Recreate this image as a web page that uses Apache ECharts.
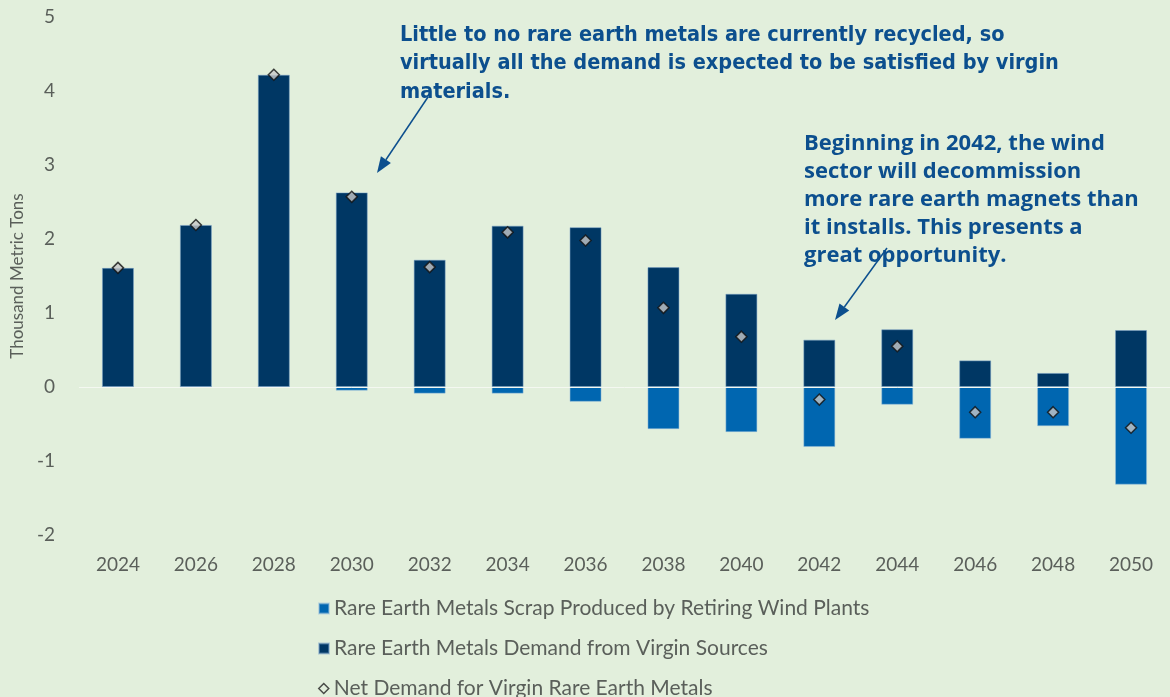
<!DOCTYPE html>
<html>
<head>
<meta charset="utf-8">
<script src="https://cdn.jsdelivr.net/npm/echarts@6/dist/echarts.min.js"></script>
<style>
  html, body { margin: 0; padding: 0; background: #e2efdc; }
  #chart { width: 1170px; height: 697px; }
</style>
</head>
<body>
<div id="chart"></div>
<script>
const anos = ['2024','2026','2028','2030','2032','2034','2036','2038','2040','2042','2044','2046','2048','2050']
const sucata = [0, 0, 0, -0.05, -0.09, -0.09, -0.20, -0.57, -0.61, -0.81, -0.24, -0.70, -0.53, -1.32]
const virgem = [1.61, 2.19, 4.22, 2.63, 1.72, 2.18, 2.16, 1.62, 1.26, 0.64, 0.78, 0.36, 0.19, 0.77]
const liquida = [1.61, 2.19, 4.22, 2.57, 1.62, 2.09, 1.98, 1.07, 0.68, -0.17, 0.55, -0.34, -0.34, -0.55]
const nomes = ['Rare Earth Metals Scrap Produced by Retiring Wind Plants',
               'Rare Earth Metals Demand from Virgin Sources',
               'Net Demand for Virgin Rare Earth Metals']

const azulTexto = '#0c4f8e'
const cinza = '#5a5f5a'

function seta(x1, y1, x2, y2){
    // linha + ponta triangular
    let dx = x2 - x1, dy = y2 - y1
    let len = Math.sqrt(dx*dx + dy*dy)
    let ux = dx/len, uy = dy/len
    let bx = x2 - 16*ux, by = y2 - 16*uy
    let px = -uy, py = ux
    return [
        { type: 'line', shape: {x1: x1, y1: y1, x2: bx, y2: by}, style: {stroke: azulTexto, lineWidth: 1.5} },
        { type: 'polygon', shape: {points: [[x2, y2], [bx + 6*px, by + 6*py], [bx - 6*px, by - 6*py]]}, style: {fill: azulTexto} }
    ]
}

function legenda(item, topo){
    return {
        left: 318,
        top: topo,
        padding: 0,
        itemWidth: 10,
        itemHeight: 10,
        textStyle: { fontSize: 21, color: cinza, fontFamily: 'Lato', lineHeight: 20 },
        data: [item]
    }
}

let option = {
    backgroundColor: '#e2efdc',
    textStyle: { fontFamily: 'Lato' },
    grid: { left: 79, top: 17, width: 1096, height: 518 },
    legend: [
        legenda({ name: nomes[0], icon: 'rect' }, 598),
        legenda({ name: nomes[1], icon: 'rect' }, 638),
        legenda({ name: nomes[2], icon: 'diamond', itemStyle: { color: '#e2efdc', borderColor: '#222', borderWidth: 1.5 } }, 678)
    ],
    xAxis: {
        type: 'category',
        data: anos,
        position: 'bottom',
        axisLine: { show: false, onZero: false },
        axisTick: { show: false },
        axisLabel: { fontSize: 19, color: cinza, margin: 20 }
    },
    yAxis: {
        type: 'value',
        min: -2,
        max: 5,
        interval: 1,
        splitLine: { show: false },
        axisLabel: { fontSize: 19, color: cinza, margin: 24 },
        name: 'Thousand Metric Tons',
        nameLocation: 'middle',
        nameGap: 48,
        nameTextStyle: { fontSize: 17, color: cinza }
    },
    series: [
        {
            name: nomes[0],
            type: 'bar',
            stack: 'total',
            barWidth: 32,
            data: sucata,
            itemStyle: { color: '#0066b0', borderColor: 'rgba(150,190,220,0.5)', borderWidth: 1 }
        },
        {
            name: nomes[1],
            type: 'bar',
            stack: 'total',
            barWidth: 32,
            data: virgem,
            itemStyle: { color: '#003764', borderColor: 'rgba(120,160,200,0.5)', borderWidth: 1 },
            markLine: {
                silent: true,
                symbol: 'none',
                label: { show: false },
                lineStyle: { color: '#f4f8f1', width: 1, type: 'solid' },
                data: [{ yAxis: 0 }]
            }
        },
        {
            name: nomes[2],
            type: 'scatter',
            symbol: 'diamond',
            symbolSize: 11,
            data: liquida,
            z: 5,
            itemStyle: { color: '#c8c8c8', borderColor: '#111', borderWidth: 1.5 }
        }
    ],
    graphic: [
        {
            type: 'text', left: 400, top: 21,
            style: {
                text: 'Little to no rare earth metals are currently recycled, so\nvirtually all the demand is expected to be satisfied by virgin\nmaterials.',
                fill: azulTexto, fontSize: 21.5, fontWeight: 'bold', fontFamily: 'DejaVu Sans Condensed', lineHeight: 28.5
            }
        },
        {
            type: 'text', left: 804, top: 130,
            style: {
                text: 'Beginning in 2042, the wind\nsector will decommission\nmore rare earth magnets than\nit installs. This presents a\ngreat opportunity.',
                fill: azulTexto, fontSize: 22, fontWeight: 'bold', fontFamily: 'Open Sans', lineHeight: 28
            }
        }
    ].concat(seta(428, 97, 377, 173)).concat(seta(887, 248, 835, 320))
}

const chart = echarts.init(document.getElementById('chart'))
chart.setOption(option)
</script>
</body>
</html>
